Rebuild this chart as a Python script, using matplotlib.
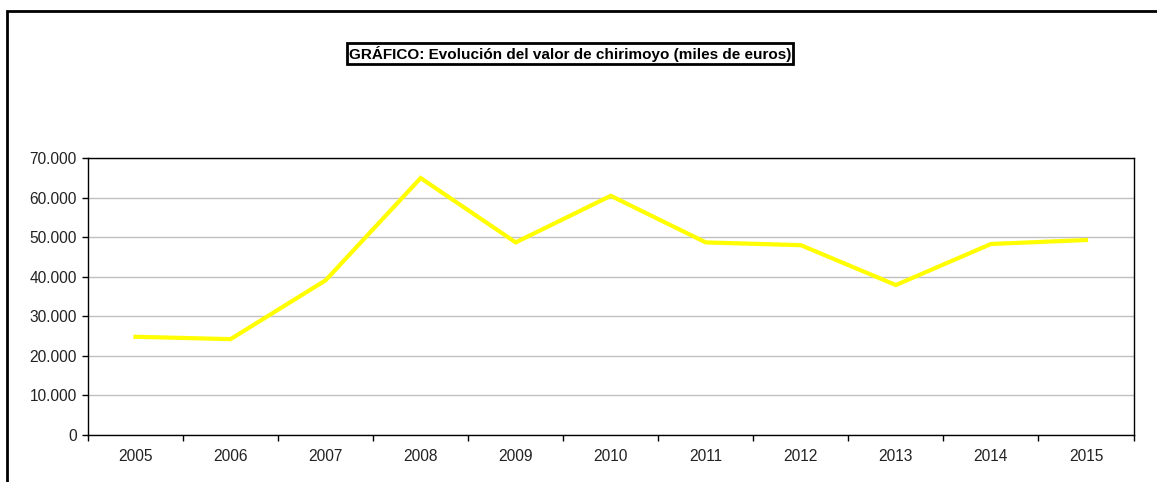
import matplotlib
matplotlib.use("Agg")
import matplotlib.pyplot as plt
from matplotlib.patches import Rectangle
from matplotlib.ticker import FuncFormatter

years = ["2005", "2006", "2007", "2008", "2009", "2010", "2011", "2012", "2013", "2014", "2015"]
valor = [24800, 24200, 39100, 65000, 48700, 60500, 48700, 48000, 37900, 48300, 49300]
y_ticks = [0, 10000, 20000, 30000, 40000, 50000, 60000, 70000]

plt.rcParams['font.family'] = ['Liberation Sans', 'DejaVu Sans']

W, H = 1157, 482
fig = plt.figure(figsize=(W / 100, H / 100), dpi=100)

# outer frame, cut off at right and bottom like the original
fig.patches.append(Rectangle((7 / W, -0.1), 1.2, 1 - 11 / H + 0.1, transform=fig.transFigure,
                             fill=False, edgecolor="black", linewidth=2.0))

ax = fig.add_axes([88 / W, 1 - 434.7 / H, (1133.5 - 88) / W, (434.7 - 158.3) / H])

x = list(range(len(years)))
ax.plot(x, valor, color="#FFFF00", linewidth=3, solid_joinstyle="miter", zorder=3)

ax.set_xlim(-0.5, len(years) - 0.5)
ax.set_ylim(0, 70000)
ax.set_yticks(y_ticks)
ax.yaxis.set_major_formatter(FuncFormatter(lambda v, p: f"{int(v):,}".replace(",", ".")))
ax.grid(axis="y", color="#C0C0C0", linewidth=1)
ax.set_axisbelow(True)

# ticks between categories, labels centred on them
ax.set_xticks([i - 0.5 for i in range(len(years) + 1)])
ax.set_xticklabels([])
ax.set_xticks(x, minor=True)
ax.set_xticklabels(years, minor=True)
ax.tick_params(axis="x", which="minor", length=0, pad=10)
ax.tick_params(axis="x", which="major", length=4, direction="out", width=1)
ax.tick_params(axis="y", length=4, direction="out", width=1, pad=4)
ax.tick_params(which="both", labelsize=11.2, labelcolor="#222222")

for s in ax.spines.values():
    s.set_linewidth(1)
    s.set_color("black")

fig.text(570 / W, 1 - 53.7 / H, "GRÁFICO: Evolución del valor de chirimoyo (miles de euros)",
         ha="center", va="center", fontsize=11, fontweight="bold",
         bbox=dict(boxstyle="square,pad=0.15", facecolor="white", edgecolor="black", linewidth=2))

fig.savefig("out.png", dpi=100)
